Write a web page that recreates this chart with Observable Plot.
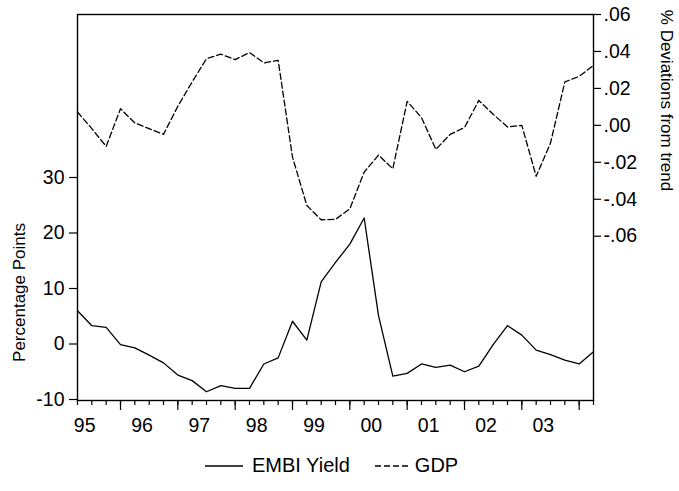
<!DOCTYPE html>
<html><head><meta charset="utf-8">
<script src="https://cdn.jsdelivr.net/npm/d3@7"></script>
<script src="https://cdn.jsdelivr.net/npm/@observablehq/plot@0.6"></script>
<style>
body{margin:0;background:#fff;font-family:"Liberation Sans",Arial,sans-serif;}
#wrap{position:relative;width:679px;height:491px;}
#legend{position:absolute;left:205px;top:454px;display:flex;align-items:center;font-size:20px;color:#000;white-space:nowrap;}
#legend svg{display:block;}
</style></head><body>
<div id="wrap"><div id="chart"></div><div id="legend"></div></div>
<script>
// Quarterly observations
const quarters = [
  "1995Q2","1995Q3","1995Q4",
  "1996Q1","1996Q2","1996Q3","1996Q4",
  "1997Q1","1997Q2","1997Q3","1997Q4",
  "1998Q1","1998Q2","1998Q3","1998Q4",
  "1999Q1","1999Q2","1999Q3","1999Q4",
  "2000Q1","2000Q2","2000Q3","2000Q4",
  "2001Q1","2001Q2","2001Q3","2001Q4",
  "2002Q1","2002Q2","2002Q3","2002Q4",
  "2003Q1","2003Q2","2003Q3","2003Q4",
  "2004Q1","2004Q2"
];
// EMBI Yield, percentage points (left axis)
const embiYield = [
  6.0, 3.3, 3.0,
  -0.1, -0.7, -2.0, -3.4,
  -5.6, -6.6, -8.6, -7.5,
  -8.0, -8.0, -3.6, -2.5,
  4.1, 0.7, 11.2, 14.7,
  18.0, 22.7, 5.1, -5.8,
  -5.3, -3.6, -4.2, -3.8,
  -5.0, -4.0, -0.1, 3.3,
  1.6, -1.1, -1.9, -2.9,
  -3.6, -1.4
];
// GDP, % deviations from trend (right axis)
const gdpDev = [
  0.0072, -0.0018, -0.0114,
  0.0090, 0.0013, -0.0018, -0.0049,
  0.0103, 0.0235, 0.0361, 0.0385,
  0.0356, 0.0394, 0.0338, 0.0352,
  -0.0172, -0.0434, -0.0511, -0.0509,
  -0.0452, -0.0253, -0.0161, -0.0235,
  0.0130, 0.0042, -0.0130, -0.0049,
  -0.0012, 0.0135, 0.0060, -0.0009,
  0.0000, -0.0276, -0.0096, 0.0235,
  0.0265, 0.0325
];
const yearLabels = ["95","96","97","98","99","00","01","02","03"];
const leftTicks = [-10, 0, 10, 20, 30];
const rightTicks = [-0.06, -0.04, -0.02, 0, 0.02, 0.04, 0.06];
const seriesNames = ["EMBI Yield", "GDP"];
const leftTitle = "Percentage Points";
const rightTitle = "% Deviations from trend";

// helpers
const toT = q => +q.slice(0, 4) + (+q.slice(5) - 1) / 4;
const tVals = quarters.map(toT);
const data = quarters.map((q, i) => ({t: tVals[i], embi: embiYield[i], gdp: gdpDev[i]}));

const leftDomain = [-10.18, 59.37];
const rightDomain = [-0.14893, 0.06];
const gToL = d3.scaleLinear().domain(rightDomain).range(leftDomain);
const fmtG = v => d3.format(".2f")(Math.abs(v) < 1e-9 ? 0 : v).replace("0.", ".").replace("−", "-");

const firstYear = 1995;
const yearStarts = d3.range(1996, 2005);
const labelPos = yearLabels.map((_, i) => firstYear + i + 0.375);
const labelMap = new Map(labelPos.map((p, i) => [p, yearLabels[i]]));

const chart = Plot.plot({
  width: 679,
  height: 445,
  marginLeft: 77,
  marginRight: 86,
  marginTop: 14,
  marginBottom: 45,
  style: {fontFamily: "'Liberation Sans', Arial, sans-serif", fontSize: "19.5px", color: "#000", background: "#fff", overflow: "visible"},
  x: {domain: [tVals[0], tVals[tVals.length - 1]]},
  y: {domain: leftDomain},
  marks: [
    Plot.axisX(tVals, {tickSize: 5, tickFormat: () => "", label: null, strokeWidth: 1.2}),
    Plot.axisX(yearStarts, {tickSize: 10, tickFormat: () => "", label: null, strokeWidth: 1.2}),
    Plot.axisX(labelPos, {tickSize: 0, tickPadding: 18, tickFormat: d => labelMap.get(d), label: null, fontSize: 19.5}),
    Plot.axisY(leftTicks, {anchor: "left", tickSize: 8, tickPadding: 5, label: null, fontSize: 19.5, strokeWidth: 1.2,
      tickFormat: d => String(d)}),
    Plot.axisY(rightTicks.map(g => gToL(g)), {anchor: "right", tickSize: 7, tickPadding: 3, label: null, fontSize: 19.5, strokeWidth: 1.2,
      tickFormat: d => fmtG(gToL.invert(d))}),
    Plot.line(data, {x: "t", y: "embi", stroke: "#000", strokeWidth: 1.3}),
    Plot.line(data, {x: "t", y: d => gToL(d.gdp), stroke: "#000", strokeWidth: 1.3, strokeDasharray: "6,3"}),
    Plot.frame({stroke: "#000", strokeWidth: 1.4}),
    Plot.text([leftTitle], {frameAnchor: "left", textAnchor: "middle", lineAnchor: "middle", dx: -58, dy: 85, rotate: -90, fontSize: 17}),
    Plot.text([rightTitle], {frameAnchor: "right", textAnchor: "middle", lineAnchor: "middle", dx: 73, dy: -107, rotate: 90, fontSize: 17})
  ]
});
document.getElementById("chart").appendChild(chart);

// legend
const legend = d3.select("#legend");
const sample = (dash, w) => {
  const s = legend.append("svg").attr("width", w).attr("height", 10);
  s.append("line").attr("x1", 0).attr("x2", w).attr("y1", 5).attr("y2", 5)
    .attr("stroke", "#000").attr("stroke-width", 1.3).attr("stroke-dasharray", dash);
  return s;
};
sample(null, 38).style("margin-right", "9px");
legend.append("span").text(seriesNames[0]).style("margin-right", "25px");
sample("6,3", 33).style("margin-right", "7px");
legend.append("span").text(seriesNames[1]);
</script>
</body></html>
